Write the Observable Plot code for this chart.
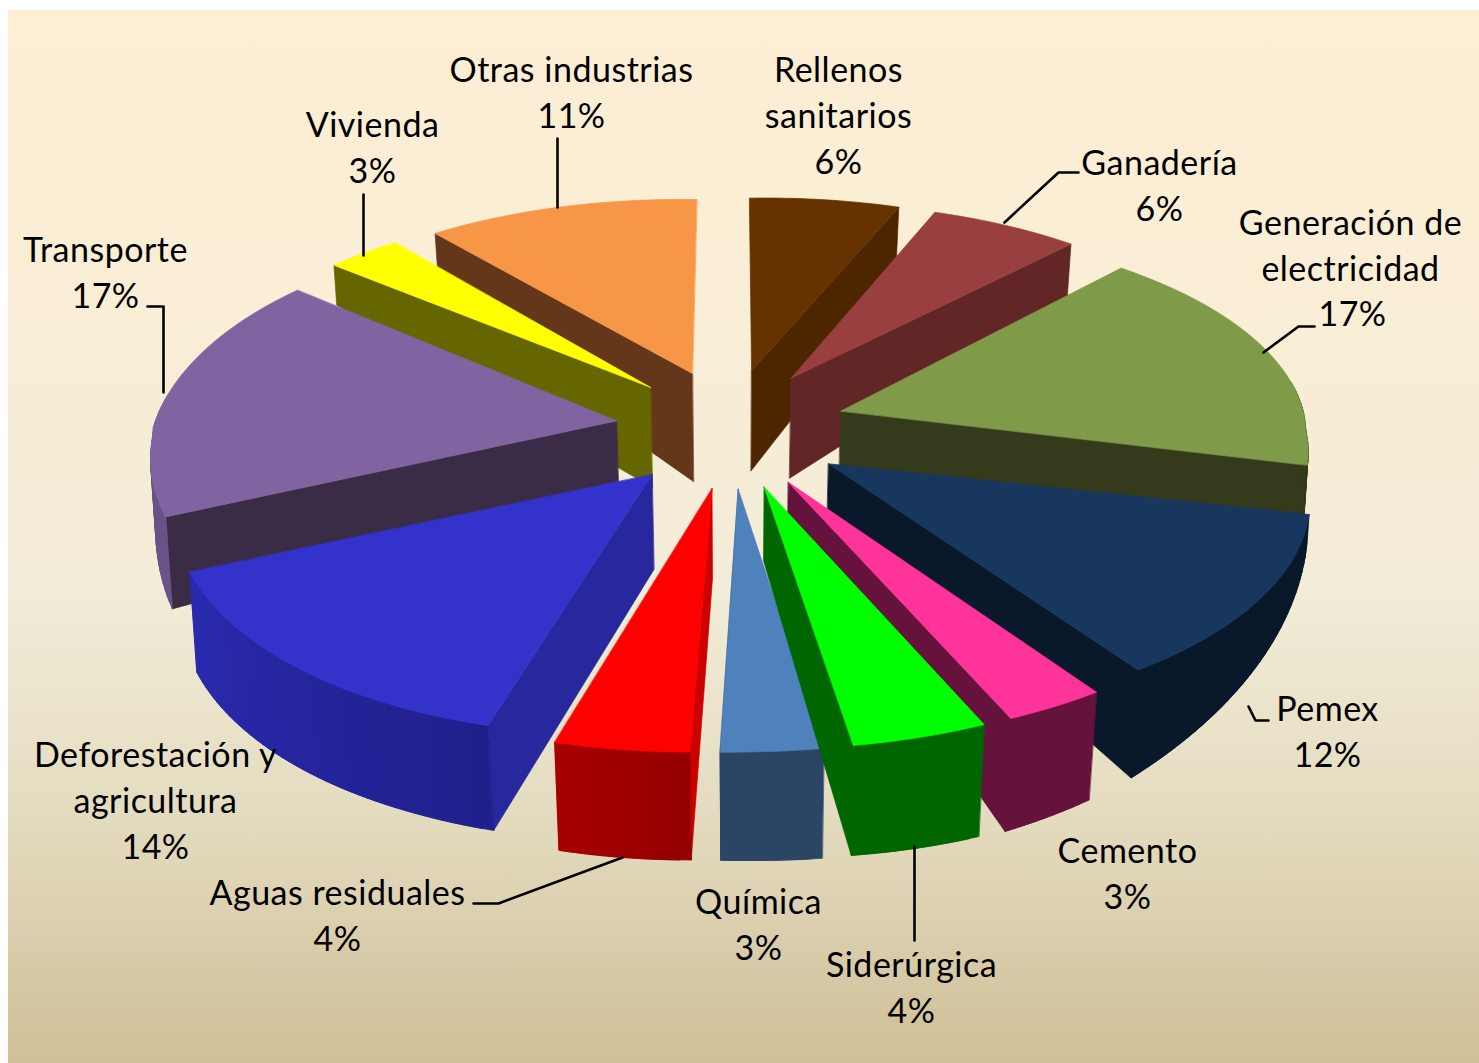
<!DOCTYPE html>
<html><head><meta charset="utf-8">
<script src="https://cdn.jsdelivr.net/npm/d3@7"></script>
<script src="https://cdn.jsdelivr.net/npm/@observablehq/plot@0.6"></script>
<style>html,body{margin:0;padding:0;background:#fff}svg{display:block}</style>
</head><body>
<script>
// Data, clockwise from twelve o'clock
const names = ["Rellenos\nsanitarios","Ganadería","Generación de\nelectricidad","Pemex","Cemento","Siderúrgica","Química","Aguas residuales","Deforestación y\nagricultura","Transporte","Vivienda","Otras industrias"];
const shares = [6,6,17,12,3,4,3,4,14,17,3,11];

// Styles
const topColors  = ["#663300","#993f3f","#7f9a48","#17375e","#ff3399","#00ff00","#4f81bd","#ff0000","#3333cc","#8064a2","#ffff00","#f79646"];
const sideColors = ["#4d2600","#622626","#343a1b","#09182a","#65133c","#006600","#2b4665","#cc0000","#27279e","#3a2c46","#666600","#64371a"];
const rimStartColors = ["#4d2600","#622626","#343a1b","#09182a","#65133c","#006600","#2b4665","#940000","#20208c","#6a5388","#666600","#64371a"];
const rimEndColors   = ["#4d2600","#622626","#343a1b","#09182a","#65133c","#006600","#2b4665","#a80000","#2a2ab0","#6a5388","#666600","#64371a"];
// Extrusion seen in the picture: inner edge, outer edge at slice start, outer edge at slice end
const depthInner = [100,100,65,47,40,74,90,90,95,68,100,108];
const depthStart = [80,58,50,30,108,112,110,108,105,92,40,70];
const depthEnd   = [80,58,52,108,113,110,108,108,100,15,40,70];
const paintOrder = [11,0,1,10,2,9,3,8,7,6,4,5];

// Tilted-disc view
const view = {cx:730, cy:430, a:580, b:270, k:0.16, shearFront:20, skewBack:3, liftBack:8, apexBack:8, apexFront:3, tiltLeft:15, tiltRight:7, inward:0.07, radius:0.80, explode:0.20};
const cum = d3.cumsum(shares);
const total = cum[cum.length-1];
const ang = p => p/total*2*Math.PI;
function project(i, pct, rf, depth){
  const a0 = ang(cum[i]-shares[i]/2);
  const t = ang(pct);
  const u = view.explode*Math.sin(a0) + rf*view.radius*Math.sin(t);
  const v = -view.explode*Math.cos(a0) - rf*view.radius*Math.cos(t);
  const w = 1 - view.k*v;
  const sk = v > 0 ? view.shearFront*v : view.skewBack*Math.abs(u)*(-v);
  const tilt = (u < 0 ? -view.tiltLeft : -view.tiltRight)*u*Math.max(0, v+0.6);
  const lift = v < 0 ? -view.liftBack*Math.abs(u) : 0;
  const ca = Math.cos(a0);
  const apex = (1-rf)*(ca > 0 ? -view.apexBack*ca : -view.apexFront*ca);
  const inward = -depth*view.inward*Math.max(-1, Math.min(1, u*2));
  return {x: view.cx + view.a*u/w + sk + inward, y: view.cy + view.b*v/w + depth + tilt + lift + apex};
}
const faces = [];
function addFace(id,color,pts){ pts.forEach(p=>faces.push({...p,face:id,color})); }
for (const i of paintOrder){
  const s = cum[i]-shares[i], e = cum[i], mid = (s+e)/2;
  const n = Math.max(8,shares[i]*3);
  const steps = d3.range(0, n+1).map(q=>q/n);
  const dAt = f => depthStart[i]+(depthEnd[i]-depthStart[i])*f;
  // visible radial wall
  const pct = mid < total/2 ? e : s, f = mid < total/2 ? 1 : 0;
  addFace(`r${i}`, sideColors[i], [project(i,pct,0,0),project(i,pct,1,0),project(i,pct,1,dAt(f)),project(i,pct,0,depthInner[i])]);
  // outer wall, as overlapping shaded bands; the far side of the disc shows no wall
  const rimColor = d3.interpolateRgb(rimStartColors[i], rimEndColors[i]);
  for (let q=0;q<n;q++){
    const a=q/n, b=Math.min(1,(q+2)/n), m=(q+0.5)/n;
    if (Math.cos(ang(s+(e-s)*m)) > 0.1) continue;
    addFace(`o${i}_${q}`, d3.color(rimColor(m)).formatHex(), [
      project(i,s+(e-s)*a,1,0),project(i,s+(e-s)*b,1,0),
      project(i,s+(e-s)*b,1,dAt(b)),project(i,s+(e-s)*a,1,dAt(a))]);
  }
  // top
  addFace(`t${i}`, topColors[i], [project(i,s,0,0),...steps.map(q=>project(i,s+(e-s)*q,1,0))]);
}

// Annotation layout
const labelX = [838,1159,1350,1327,1127,911,758,337,155,105,372,571];
const labelY = [113,183,243,729,871,985,922,913,798,270,145,90];
const labels = names.map((n,i)=>({x:labelX[i],y:labelY[i],text: i===2 ? n : `${n}\n${shares[i]}%`}));
labels.push({x:1352,y:311,text:"17%"});
const leaderPaths = [
 [[1004,222],[1058,172],[1078,172]],
 [[1263,352],[1298,326],[1314,326]],
 [[1248,706],[1255,720],[1268,720]],
 [[914,846],[914,940]],
 [[622,857],[498,903],[473,903]],
 [[163,392],[163,306],[147,306]],
 [[363,194],[363,255]],
 [[557,138],[557,207]]
];
const leaders = leaderPaths.flatMap((p,id)=>p.map(([x,y])=>({x,y,id})));

const chart = Plot.plot({
  width:1479, height:1063, margin:0,
  x:{domain:[0,1479],range:[0,1479],axis:null},
  y:{domain:[0,1063],range:[0,1063],axis:null},
  color:{type:"identity"},
  style:{background:"linear-gradient(#fdeed4 0%, #f9eed6 30%, #f3ecd8 55%, #e4dcc0 76%, #d0bf98 100%) 8px 10px / 1471px 1053px no-repeat", overflow:"visible", letterSpacing:"0.5px"},
  marks:[
    Plot.line(faces,{x:"x",y:"y",z:"face",fill:"color",stroke:"color",strokeWidth:0.7,curve:"linear-closed"}),
    Plot.line(leaders,{x:"x",y:"y",z:"id",stroke:"black",strokeWidth:2.6}),
    Plot.text(labels,{x:"x",y:"y",text:"text",fontFamily:"Lato",fontSize:34,lineHeight:46/34,fill:"black",textAnchor:"middle"})
  ]
});
document.body.appendChild(chart);
</script>
</body></html>
